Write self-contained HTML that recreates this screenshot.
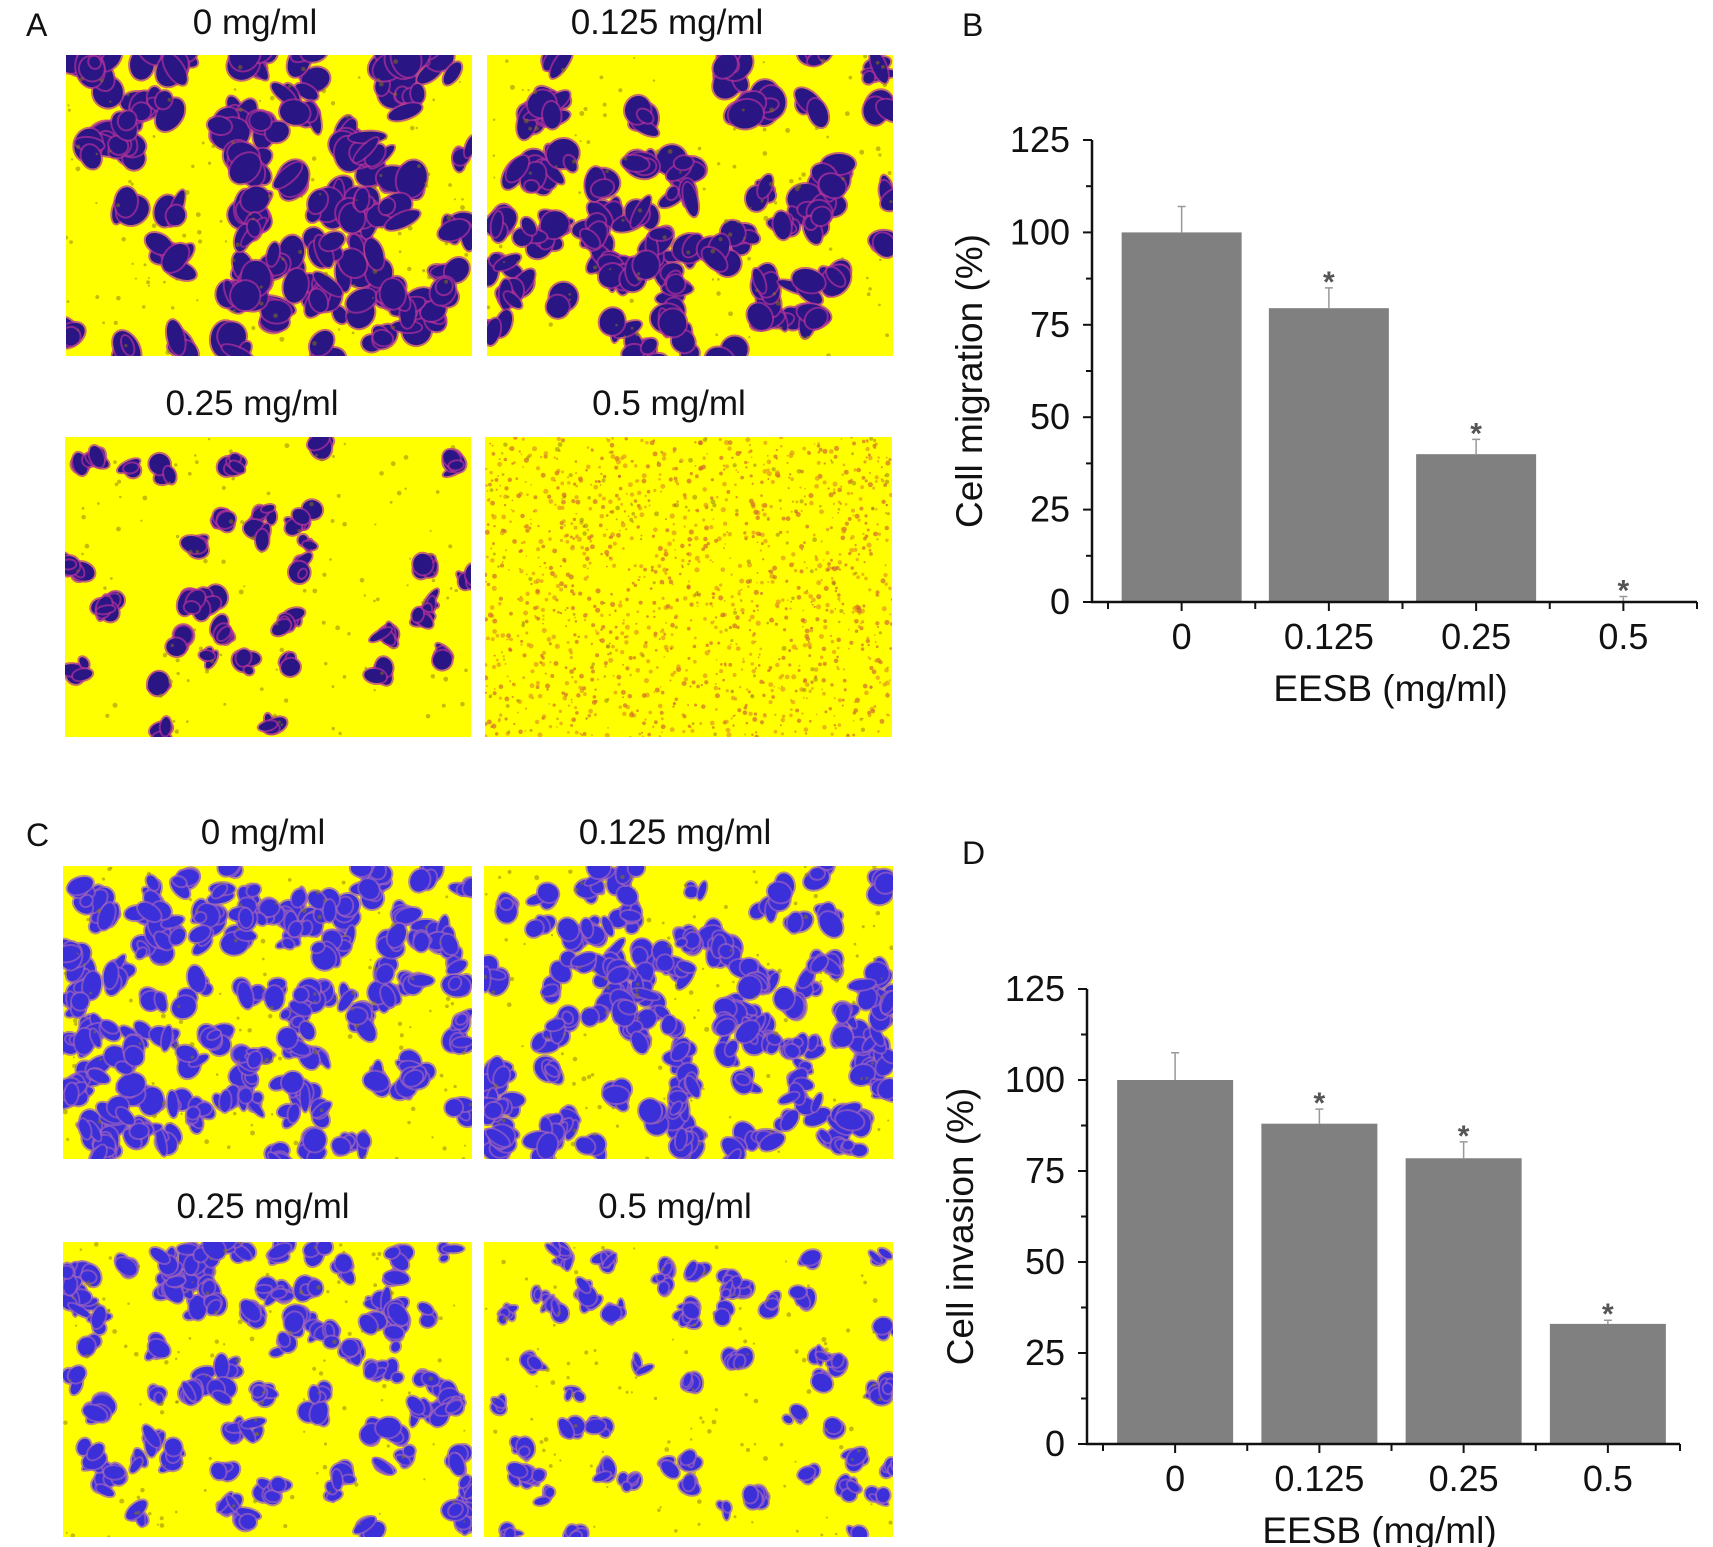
<!DOCTYPE html>
<html><head><meta charset="utf-8"><style>
html,body{margin:0;padding:0;background:#fff;}
svg{display:block;font-family:"Liberation Sans",Arial,sans-serif;}
</style></head><body>
<svg id="fig" width="1713" height="1547" viewBox="0 0 1713 1547">
<g id="micro"></g>
<g id="labels" font-size="32" fill="#111">
<text x="26" y="36">A</text>
<text x="26" y="846">C</text>
<text x="962" y="36">B</text>
<text x="962" y="864">D</text>
<g text-anchor="middle" font-size="35">
<text x="255" y="34">0 mg/ml</text>
<text x="667" y="34">0.125 mg/ml</text>
<text x="252" y="415">0.25 mg/ml</text>
<text x="669" y="415">0.5 mg/ml</text>
<text x="263" y="844">0 mg/ml</text>
<text x="675" y="844">0.125 mg/ml</text>
<text x="263" y="1218">0.25 mg/ml</text>
<text x="675" y="1218">0.5 mg/ml</text>
</g></g>
<g id="chartB"></g>
<g id="chartD"></g>
</svg>
<script>
const categories = ["0","0.125","0.25","0.5"];
const yTicks = [0,25,50,75,100,125];
const migrationValues = [100,79.5,40,0];
const migrationErrors = [7,5.5,4,1.5];
const invasionValues = [100,88,78.5,33];
const invasionErrors = [7.5,4,4.5,1];
const NS="http://www.w3.org/2000/svg";
function mk(parent,tag,attrs){const e=document.createElementNS(NS,tag);for(const k in attrs)e.setAttribute(k,attrs[k]);parent.appendChild(e);return e;}

function drawChart(g,cfg,values,errors,title){
  const yScale=v=>cfg.y0-(v/125)*(cfg.y0-cfg.y125);
  const step=(cfg.xEnd-cfg.x0-cfg.pad)/categories.length;
  const xCenter=i=>cfg.x0+cfg.pad+step*(i+0.5);
  const bw=cfg.bw;
  values.forEach((v,i)=>{
    const cx=xCenter(i);
    const r=mk(g,'rect',{x:cx-bw/2,y:yScale(v),width:bw,height:cfg.y0-yScale(v),fill:'#808080'});
    
    
    const e=mk(g,'path',{d:`M${cx},${yScale(v)}V${yScale(v+errors[i])}M${cx-4},${yScale(v+errors[i])}H${cx+4}`,stroke:'#999',"stroke-width":1.5,fill:'none'});
    
    
    if(i>0){
      const s=mk(g,'text',{x:cx,y:yScale(v+errors[i])+4,"text-anchor":'middle',"font-size":30,"font-weight":'bold',fill:'#555'});
      s.textContent='*';
      
      
    }
    const t=mk(g,'text',{x:cx,y:cfg.y0+47,"text-anchor":'middle',"font-size":36,fill:'#111'});
    t.textContent=categories[i];
    
    
    mk(g,'line',{x1:cx,x2:cx,y1:cfg.y0,y2:cfg.y0+9,stroke:'#111',"stroke-width":2});
  });
  for(let i=0;i<=categories.length;i++){
    const x=cfg.x0+cfg.pad+step*i;
    mk(g,'line',{x1:x,x2:x,y1:cfg.y0,y2:cfg.y0+7,stroke:'#111',"stroke-width":2});
  }
  yTicks.forEach((v,i)=>{
    const y=yScale(v);
    mk(g,'line',{x1:cfg.x0-9,x2:cfg.x0,y1:y,y2:y,stroke:'#111',"stroke-width":2});
    if(i<yTicks.length-1){const ym=yScale(v+12.5);mk(g,'line',{x1:cfg.x0-6,x2:cfg.x0,y1:ym,y2:ym,stroke:'#111',"stroke-width":2});}
    const t=mk(g,'text',{x:cfg.x0-22,y:y+12,"text-anchor":'end',"font-size":36,fill:'#111'});
    t.textContent=v;
    
    
  });
  const ax=mk(g,'path',{d:`M${cfg.x0},${cfg.y125}V${cfg.y0}H${cfg.xEnd}`,stroke:'#111',"stroke-width":2.5,fill:'none'});
  
  
  const xt=mk(g,'text',{x:(cfg.x0+cfg.xEnd)/2-4,y:cfg.y0+99,"text-anchor":'middle',"font-size":37,fill:'#111'});
  xt.textContent='EESB (mg/ml)';
  
  
  const yc=(cfg.y0+cfg.y125)/2+10;
  const yt=mk(g,'text',{x:cfg.ytx,y:yc,"text-anchor":'middle',"font-size":37,fill:'#111',transform:`rotate(-90 ${cfg.ytx} ${yc})`});
  yt.textContent=title;
  
  
}
drawChart(document.getElementById('chartB'),{x0:1092,xEnd:1697,y0:602,y125:140,pad:16,bw:120,ytx:982},migrationValues,migrationErrors,'Cell migration (%)');
drawChart(document.getElementById('chartD'),{x0:1087,xEnd:1680,y0:1444,y125:989,pad:16,bw:116,ytx:973},invasionValues,invasionErrors,'Cell invasion (%)');

// micrograph textures (decorative)
let seed=7;function rnd(){seed=(seed*16807)%2147483647;return seed/2147483647;}
const panels=[
 {x:66,y:55,w:406,h:301,n:75,c:'#2a1585',e:'#b0309a',s:0.75,name:'image-a-0'},
 {x:487,y:55,w:406,h:301,n:65,c:'#2a1585',e:'#b0309a',s:0.7,name:'image-a-0125'},
 {x:65,y:437,w:406,h:300,n:40,c:'#2a1585',e:'#b0309a',s:0.5,name:'image-a-025'},
 {x:485,y:437,w:407,h:300,n:0,c:'#c46a20',e:'#d88a30',s:0.3,name:'image-a-05'},
 {x:63,y:866,w:409,h:293,n:130,c:'#3a2fd8',e:'#9a60c0',s:0.55,name:'image-c-0'},
 {x:484,y:866,w:409,h:293,n:115,c:'#3a2fd8',e:'#9a60c0',s:0.55,name:'image-c-0125'},
 {x:63,y:1242,w:409,h:295,n:95,c:'#3a2fd8',e:'#9a60c0',s:0.5,name:'image-c-025'},
 {x:484,y:1242,w:409,h:295,n:60,c:'#3a2fd8',e:'#9a60c0',s:0.42,name:'image-c-05'}];
const M=document.getElementById('micro');
panels.forEach((p,pi)=>{
  const g=mk(M,'g',{});
  
  
  const cid='clip'+pi;
  const cp=mk(g,'clipPath',{id:cid});mk(cp,'rect',{x:p.x,y:p.y,width:p.w,height:p.h});
  const inner=mk(g,'g',{"clip-path":`url(#${cid})`});
  mk(inner,'rect',{x:p.x,y:p.y,width:p.w,height:p.h,fill:'#ffff00'});
  if(p.n===0){
    for(let i=0;i<1400;i++){mk(inner,'circle',{cx:p.x+rnd()*p.w,cy:p.y+rnd()*p.h,r:0.8+rnd()*1.8,fill:rnd()<0.5?'#e09020':'#d06030',opacity:0.65});}
  }
  for(let i=0;i<p.n;i++){
    const cx=p.x+rnd()*p.w,cy=p.y+rnd()*p.h;
    const k=3+Math.floor(rnd()*3);
    for(let j=0;j<k;j++){
      const rx=(5+rnd()*12)*p.s*1.5,ry=(4+rnd()*10)*p.s*1.5;
      const ox=cx+(rnd()-0.5)*30*p.s,oy=cy+(rnd()-0.5)*30*p.s;
      const rot=rnd()*180;
      mk(inner,'ellipse',{cx:ox,cy:oy,rx:rx+2,ry:ry+2,fill:p.e,opacity:0.7,transform:`rotate(${rot} ${ox} ${oy})`});
      mk(inner,'ellipse',{cx:ox,cy:oy,rx:rx,ry:ry,fill:p.c,transform:`rotate(${rot} ${ox} ${oy})`});
    }
  }
  for(let i=0;i<120;i++){mk(inner,'circle',{cx:p.x+rnd()*p.w,cy:p.y+rnd()*p.h,r:1+rnd()*1.5,fill:'#8a7a10',opacity:0.5});}
});
</script>
</body></html>
